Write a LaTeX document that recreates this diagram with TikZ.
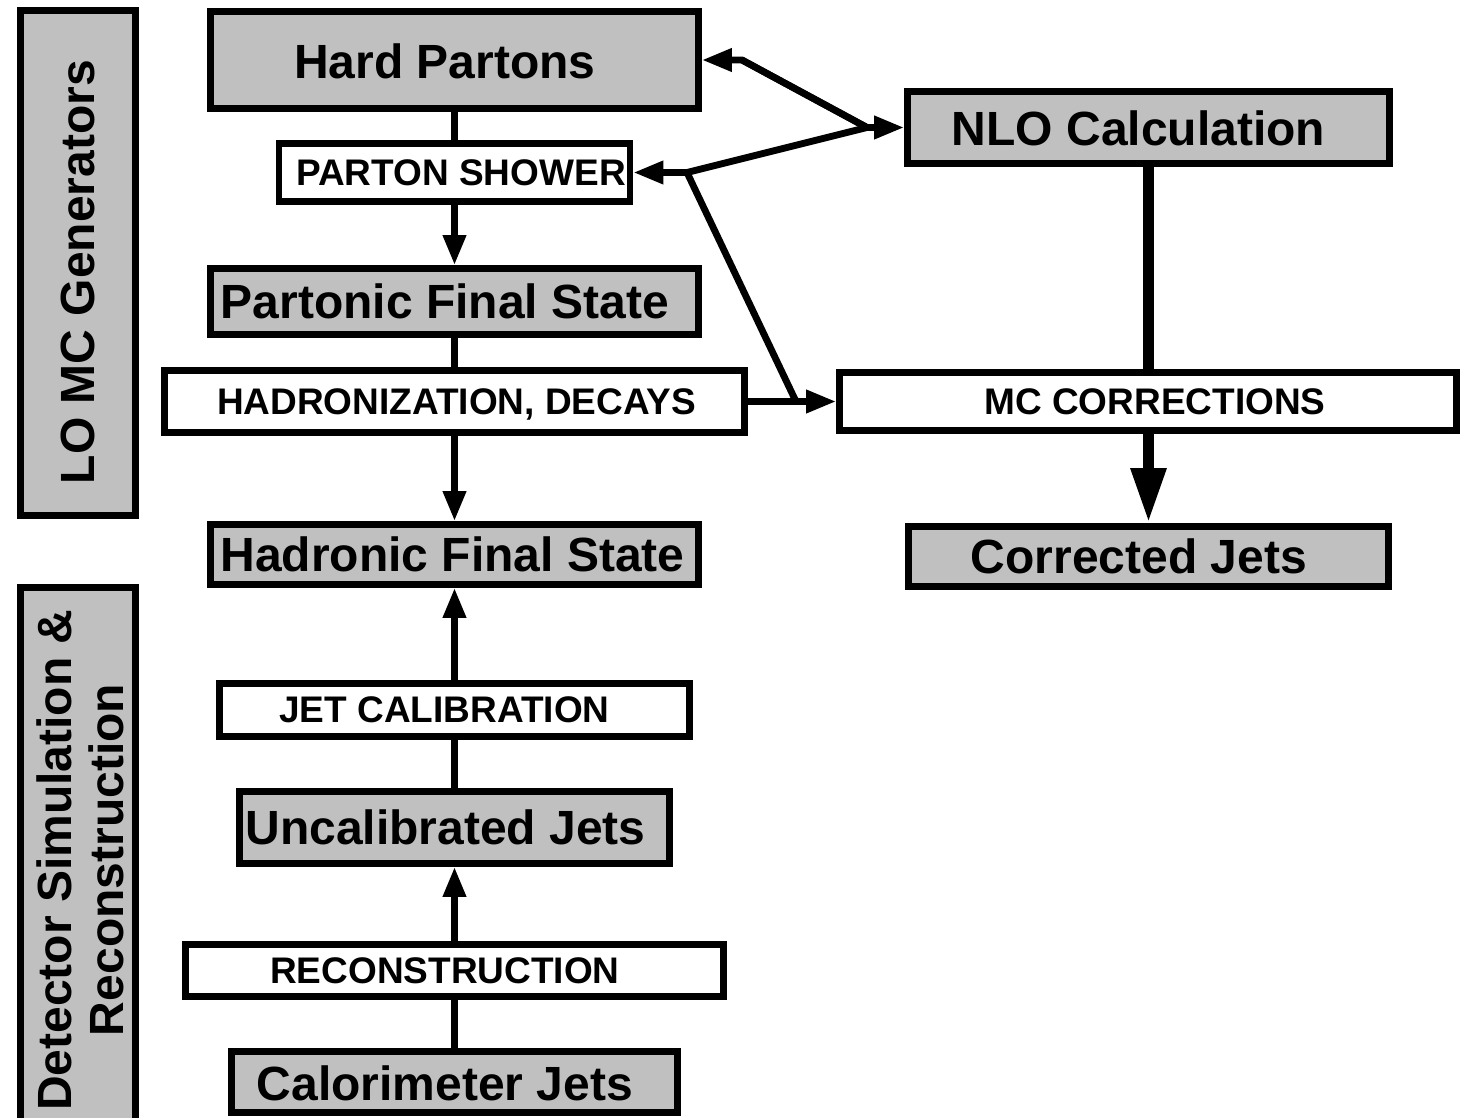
\documentclass[tikz,border=0pt]{standalone}
\usepackage{fontspec}
\setmainfont{Liberation Sans}
\usetikzlibrary{arrows.meta,positioning}
\definecolor{boxgray}{RGB}{192,192,192}

\begin{document}
\begin{tikzpicture}[x=0.5pt, y=-0.5pt, >={Triangle[length=15pt, width=11pt]},
  greybox/.style={draw, line width=3.4pt, fill=boxgray, inner sep=0pt},
  whitebox/.style={draw, line width=3.4pt, fill=white, inner sep=0pt},
  bigtext/.style={font=\fontsize{24}{27}\selectfont\bfseries, inner sep=0pt, text height=17.2pt, text depth=0pt},
  smalltext/.style={font=\fontsize{18.5}{22}\selectfont\bfseries, inner sep=0pt, text height=13.2pt, text depth=0pt},
  sidetext/.style={font=\fontsize{24}{26}\selectfont\bfseries, inner sep=0pt, rotate=90, align=center},
  link/.style={line width=3.4pt},
  fatlink/.style={line width=5.8pt}]

\useasboundingbox (0,0) rectangle (1461,1118);

% side panels
\node[greybox, minimum width=57.5pt, minimum height=252.5pt] (lobox) at (78,263) {};
\node[sidetext] (lolabel) at (78,272) {LO MC Generators};
\node[greybox, minimum width=57.5pt, minimum height=273.75pt] (detbox) at (78,861) {};
\node[sidetext] (detlabel) at (80,860) {Detector Simulation \&\\Reconstruction};

% left column: boxes
\node[greybox,  minimum width=244pt,   minimum height=48.5pt] (hard)     at (454.5,60)    {};
\node[whitebox, minimum width=175.5pt, minimum height=29pt]   (shower)   at (454.5,172.5) {};
\node[greybox,  minimum width=244pt,   minimum height=33pt]   (partonic) at (454.5,301.5) {};
\node[whitebox, minimum width=290pt,   minimum height=31pt]   (hadroniz) at (454.5,401.5) {};
\node[greybox,  minimum width=244pt,   minimum height=30pt]   (hadronic) at (454.5,554.5) {};
\node[whitebox, minimum width=235pt,   minimum height=26.5pt] (jetcal)   at (454.5,710)   {};
\node[greybox,  minimum width=215pt,   minimum height=36pt]   (uncal)    at (454.5,827.5) {};
\node[whitebox, minimum width=269pt,   minimum height=26pt]   (reco)     at (454.5,970.5) {};
\node[greybox,  minimum width=223pt,   minimum height=30.5pt] (calo)     at (454.5,1082)  {};

% right column: boxes
\node[greybox,  minimum width=241pt,   minimum height=36pt]   (nlo)       at (1148.5,127.5) {};
\node[whitebox, minimum width=308.5pt, minimum height=29pt]   (mccorr)    at (1148,401.5)   {};
\node[greybox,  minimum width=240pt,   minimum height=30pt]   (corrected) at (1148.5,556.5) {};

% texts
\node[bigtext]   (hardtxt)      at (445,61)      {Hard Partons};
\node[smalltext] (showertxt)    at (461,172)     {PARTON SHOWER};
\node[bigtext]   (partonictxt)  at (445,301)     {Partonic Final State};
\node[smalltext] (hadroniztxt)  at (456.5,401.5) {HADRONIZATION, DECAYS};
\node[bigtext]   (hadronictxt)  at (452.5,554)   {Hadronic Final State};
\node[smalltext] (jetcaltxt)    at (444.5,709)   {JET CALIBRATION};
\node[bigtext]   (uncaltxt)     at (445.5,827)   {Uncalibrated Jets};
\node[smalltext] (recotxt)      at (445,970)     {RECONSTRUCTION};
\node[bigtext]   (calotxt)      at (445,1083)    {Calorimeter Jets};
\node[bigtext]   (nlotxt)       at (1138.5,128)  {NLO Calculation};
\node[smalltext] (mccorrtxt)    at (1155,401.5)  {MC CORRECTIONS};
\node[bigtext]   (correctedtxt) at (1139,556)    {Corrected Jets};

% junction points
\coordinate (jnlo) at (867,127.5);
\coordinate (jhard) at (742,60);
\coordinate (jshower) at (687,172.5);
\coordinate (jmc) at (796,401.5);

% left column flow
\draw[link] (hard) -- (shower);
\draw[link,->] (shower) -- (partonic);
\draw[link] (partonic) -- (hadroniz);
\draw[link,->] (hadroniz) -- (hadronic);
\draw[link,->] (jetcal) -- (hadronic);
\draw[link] (uncal) -- (jetcal);
\draw[link,->] (reco) -- (uncal);
\draw[link] (calo) -- (reco);

% NLO links
\draw[link,->] (jhard) -- (jnlo) -- (nlo);
\draw[link,->] (jnlo) -- (jhard) -- (hard.east |- jhard);
\draw[link,->] (jnlo) -- (jshower) -- (shower.east |- jshower);
\draw[link] (jshower) -- (jmc);
\draw[link,->] (hadroniz) -- (mccorr);

% right column flow
\draw[fatlink] (nlo) -- (mccorr.north -| nlo);
\draw[fatlink,-{Triangle[length=27.5pt, width=16.5pt]}] (mccorr.south -| corrected) -- (corrected);

\end{tikzpicture}
\end{document}
